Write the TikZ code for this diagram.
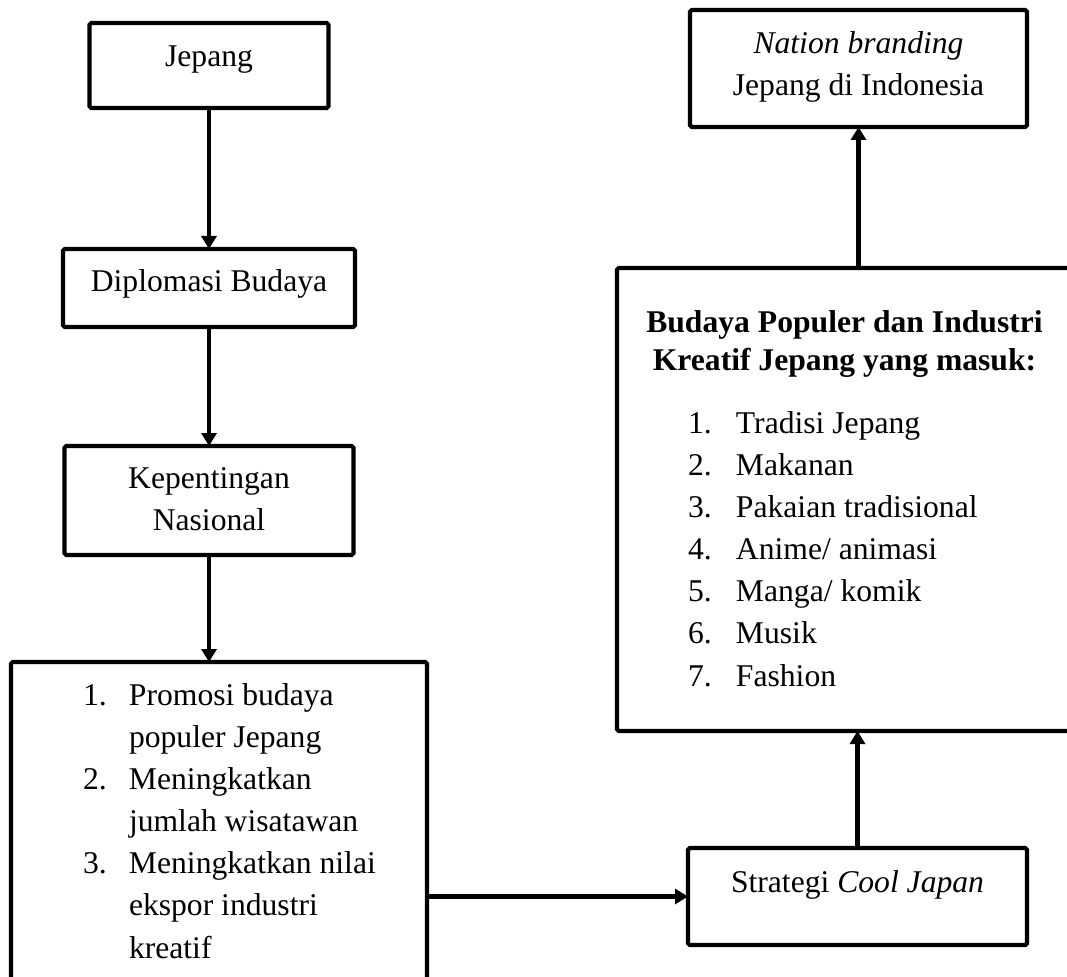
\documentclass[tikz,border=0pt]{standalone}
\usepackage{fontspec}
\setmainfont{Liberation Serif}
\usetikzlibrary{arrows.meta,positioning}
\tikzstyle{kotak}=[rectangle,draw,line width=2.4pt,rounded corners=1pt,outer sep=0pt,inner sep=0pt]
\tikzstyle{teks}=[inner sep=0pt,outer sep=0pt,align=center,font=\fontsize{18}{24}\selectfont]
\tikzstyle{daftar}=[inner sep=0pt,outer sep=0pt,align=left,font=\fontsize{18}{24}\selectfont]
\tikzstyle{panah}=[-{Triangle[length=0.26cm,width=0.30cm]},line width=2.6pt]
\newcommand{\nomor}[2]{\makebox[#1][l]{#2}}
\begin{document}
\begin{tikzpicture}
\useasboundingbox (0,0) rectangle (21.34,-19.52);
% kolom kiri
\node (JP) [kotak, minimum width=4.78cm, minimum height=1.70cm] at (4.18,-1.31) {};
\node (DB) [kotak, minimum width=5.84cm, minimum height=1.56cm, below=2.82cm of JP] {};
\node (KN) [kotak, minimum width=5.78cm, minimum height=2.18cm, below=2.38cm of DB] {};
\node (TJ) [kotak, minimum width=8.32cm, minimum height=6.46cm, below=2.14cm of KN, xshift=0.2cm] {};
% kolom kanan
\node (CJ) [kotak, minimum width=6.78cm, minimum height=1.94cm] at (17.15,-17.93) {};
\node (BP) [kotak, minimum width=9.10cm, minimum height=9.26cm, above=2.34cm of CJ, xshift=-0.26cm] {};
\node (NB) [kotak, minimum width=6.74cm, minimum height=2.34cm, above=2.82cm of BP, xshift=0.28cm] {};
% teks
\node (tJP) [teks, below=0.28cm of JP.north] {\strut Jepang};
\node (tDB) [teks, below=0.26cm of DB.north] {\strut Diplomasi Budaya};
\node (tKN) [teks, below=0.25cm of KN.north] {\strut Kepentingan\\Nasional};
\node (tTJ) [daftar, below right=0.27cm and 1.44cm of TJ.north west] {\strut\nomor{0.92cm}{1.}Promosi budaya\\
  \nomor{0.92cm}{}populer Jepang\\
  \nomor{0.92cm}{2.}Meningkatkan\\
  \nomor{0.92cm}{}jumlah wisatawan\\
  \nomor{0.92cm}{3.}Meningkatkan nilai\\
  \nomor{0.92cm}{}ekspor industri\\
  \nomor{0.92cm}{}kreatif};
\node (tCJ) [teks, below=0.29cm of CJ.north] {\strut Strategi \textit{Cool Japan}};
\node (tBP) [teks, font=\fontsize{18}{21.6}\selectfont\bfseries, below=0.75cm of BP.north] {\strut Budaya Populer dan Industri\\Kreatif Jepang yang masuk:};
\node (lBP) [daftar, below right=2.71cm and 1.42cm of BP.north west] {\strut\nomor{0.96cm}{1.}Tradisi Jepang\\
  \nomor{0.96cm}{2.}Makanan\\
  \nomor{0.96cm}{3.}Pakaian tradisional\\
  \nomor{0.96cm}{4.}Anime/ animasi\\
  \nomor{0.96cm}{5.}Manga/ komik\\
  \nomor{0.96cm}{6.}Musik\\
  \nomor{0.96cm}{7.}Fashion};
\node (tNB) [teks, below=0.27cm of NB.north] {\strut\textit{Nation branding}\\Jepang di Indonesia};
% panah
\draw [panah] (JP) -- (DB);
\draw [panah] (DB) -- (KN);
\draw [panah] (KN.south) -- (KN.south |- TJ.north);
\draw [panah] (TJ.east |- CJ.west) -- (CJ.west);
\draw [panah] (CJ.north) -- (CJ.north |- BP.south);
\draw [panah] (NB.south |- BP.north) -- (NB.south);
\end{tikzpicture}
\end{document}
